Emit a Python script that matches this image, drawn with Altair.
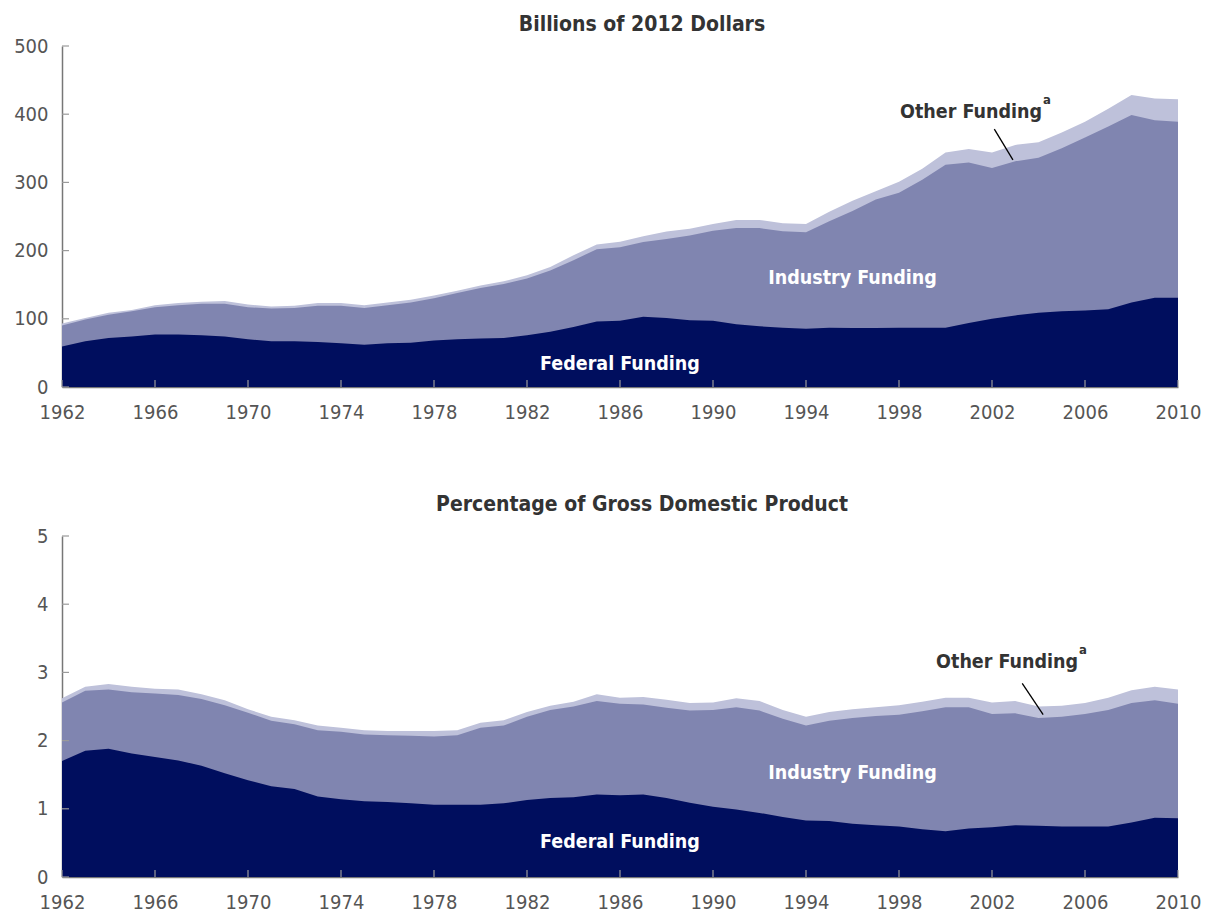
import altair as alt
import pandas as pd

years = list(range(1962, 2011))

# Billions of 2012 dollars: cumulative boundaries
federal_usd = [59.4, 67, 72, 74, 77, 77, 76, 74, 70, 67, 67, 66, 64, 62, 64, 65, 68, 70, 71, 72, 76, 81, 88, 96, 97,
               103, 101, 98, 97, 92, 89, 87, 85.5, 87, 86.5, 86.5, 87, 87, 87, 94, 100, 105, 109, 111, 112, 114, 124, 131, 131]
fed_ind_usd = [90, 99, 106, 111, 117, 120, 122, 122, 117, 115, 116, 119, 119, 116, 120, 124, 130, 138, 145, 151, 159, 171, 186, 202, 205,
               212.5, 217, 222, 229, 233, 233, 228.5, 227, 243, 258, 275, 285, 304, 326, 329, 321, 331, 336, 350, 366, 382, 399, 391, 389]
total_usd = [93, 101, 109, 113, 120, 123, 125, 126, 121, 118, 119, 123, 123, 120, 124, 128, 134, 141, 149, 155, 164, 176, 193, 209, 213,
             221, 228, 232, 239, 245, 245, 240, 239, 257, 273, 287, 301, 320, 344, 349, 344, 355, 359, 373, 389, 408, 428, 423, 422]

# Percentage of GDP: cumulative boundaries
federal_gdp = [1.70, 1.85, 1.88, 1.81, 1.76, 1.71, 1.63, 1.52, 1.42, 1.33, 1.29, 1.18, 1.14, 1.11, 1.10, 1.08, 1.06, 1.06, 1.06, 1.08, 1.13, 1.16, 1.17, 1.21, 1.20,
               1.21, 1.16, 1.09, 1.03, 0.99, 0.94, 0.88, 0.83, 0.82, 0.78, 0.76, 0.74, 0.70, 0.67, 0.71, 0.73, 0.76, 0.75, 0.74, 0.74, 0.74, 0.80, 0.87, 0.86]
fed_ind_gdp = [2.56, 2.73, 2.75, 2.71, 2.69, 2.67, 2.61, 2.52, 2.41, 2.29, 2.24, 2.15, 2.13, 2.09, 2.08, 2.07, 2.06, 2.08, 2.19, 2.22, 2.35, 2.45, 2.50, 2.58, 2.54,
               2.53, 2.48, 2.44, 2.45, 2.49, 2.44, 2.32, 2.22, 2.29, 2.33, 2.36, 2.38, 2.43, 2.49, 2.49, 2.39, 2.40, 2.33, 2.35, 2.39, 2.45, 2.55, 2.59, 2.54]
total_gdp = [2.62, 2.79, 2.83, 2.79, 2.76, 2.75, 2.68, 2.59, 2.46, 2.35, 2.30, 2.22, 2.19, 2.15, 2.14, 2.14, 2.14, 2.15, 2.26, 2.30, 2.42, 2.51, 2.57, 2.68, 2.63,
             2.64, 2.60, 2.55, 2.56, 2.62, 2.58, 2.45, 2.35, 2.42, 2.46, 2.49, 2.52, 2.57, 2.63, 2.63, 2.56, 2.58, 2.50, 2.51, 2.55, 2.63, 2.74, 2.79, 2.75]

x_ticks = list(range(1962, 2011, 4))
usd_ticks = [0, 100, 200, 300, 400, 500]
gdp_ticks = [0, 1, 2, 3, 4, 5]

# annotation positions (data coordinates)
usd_labels = {"industry": (1996.0, 160), "federal": (1986.0, 34), "other": (2001.1, 403),
              "line": (2002.1, 378, 2002.9, 333)}
gdp_labels = {"industry": (1996.0, 1.525), "federal": (1986.0, 0.51), "other": (2002.65, 3.15),
              "line": (2003.3, 2.84, 2004.2, 2.38)}

FONT = "Liberation Sans Narrow, DejaVu Sans Condensed, Arial Narrow, sans-serif"
C_FED = "#000E5E"
C_IND = "#8085B0"
C_OTH = "#BEC1DA"
W, H = 1116, 341


def panel(title, fed, fedind, tot, ymax, yticks, lab, title_offset):
    df = pd.DataFrame({"year": years, "federal": fed, "fedind": fedind, "total": tot})
    xs = alt.Scale(domain=[1962, 2010], nice=False, zero=False)
    ys = alt.Scale(domain=[0, ymax], nice=False)
    xax = alt.Axis(values=x_ticks, format="d", ticks=False, grid=False, title=None,
                   labelFontSize=20, labelColor="#555", labelFont=FONT, labelPadding=15,
                   domainColor="#777", domainWidth=1.5, labelFlush=False)
    yax = alt.Axis(values=yticks, format="d", ticks=False, grid=False, title=None,
                   labelFontSize=20, labelColor="#555", labelFont=FONT, labelPadding=14,
                   domainColor="#777", domainWidth=1.5)
    base = alt.Chart(df)
    other = base.mark_area(color=C_OTH, opacity=1).encode(
        x=alt.X("year:Q", scale=xs, axis=xax), y=alt.Y("total:Q", scale=ys, axis=yax))
    ind = base.mark_area(color=C_IND, opacity=1).encode(x="year:Q", y="fedind:Q")
    fedl = base.mark_area(color=C_FED, opacity=1).encode(x="year:Q", y="federal:Q")

    xt = alt.Chart(pd.DataFrame({"t": x_ticks})).mark_rule(color="#9a9a9a", strokeWidth=1.2).encode(
        x="t:Q", y=alt.value(H), y2=alt.value(H - 7))
    yt = alt.Chart(pd.DataFrame({"v": yticks})).mark_rule(color="#9a9a9a", strokeWidth=1.2).encode(
        y="v:Q", x=alt.value(0), x2=alt.value(7))

    white = pd.DataFrame({"label": ["Industry Funding", "Federal Funding"],
                          "x": [lab["industry"][0], lab["federal"][0]],
                          "y": [lab["industry"][1], lab["federal"][1]]})
    wtxt = alt.Chart(white).mark_text(color="white", font=FONT, fontSize=19.5, fontWeight="bold",
                                      align="center", baseline="middle").encode(x="x:Q", y="y:Q", text="label:N")
    oth = pd.DataFrame({"label": ["Other Funding"], "x": [lab["other"][0]], "y": [lab["other"][1]]})
    otxt = alt.Chart(oth).mark_text(color="#333", font=FONT, fontSize=19.5, fontWeight="bold",
                                    align="center", baseline="middle").encode(x="x:Q", y="y:Q", text="label:N")
    sup = alt.Chart(oth).mark_text(color="#333", font=FONT, fontSize=13, fontWeight="bold",
                                   align="left", baseline="middle", dx=72, dy=-12).encode(
        x="x:Q", y="y:Q", text=alt.value("a"))
    l = lab["line"]
    ln = alt.Chart(pd.DataFrame({"x": [l[0]], "y": [l[1]], "x2": [l[2]], "y2": [l[3]]})).mark_rule(
        color="black", strokeWidth=1.3).encode(x="x:Q", y="y:Q", x2="x2:Q", y2="y2:Q")

    return alt.layer(other, ind, fedl, xt, yt, wtxt, otxt, sup, ln).properties(
        width=W, height=H,
        title=alt.TitleParams(title, fontSize=21, fontWeight="bold", color="#333", font=FONT,
                              anchor="middle", offset=title_offset, dx=22))


top = panel("Billions of 2012 Dollars", federal_usd, fed_ind_usd, total_usd, 500, usd_ticks, usd_labels, 1)
bottom = panel("Percentage of Gross Domestic Product", federal_gdp, fed_ind_gdp, total_gdp, 5, gdp_ticks,
               gdp_labels, 11)

chart = alt.vconcat(top, bottom, spacing=72).configure_view(stroke=None).properties(
    padding={"left": 5, "top": 6, "right": 0, "bottom": 0})

chart.save("out.html", embed_options={"renderer": "svg", "actions": False})
